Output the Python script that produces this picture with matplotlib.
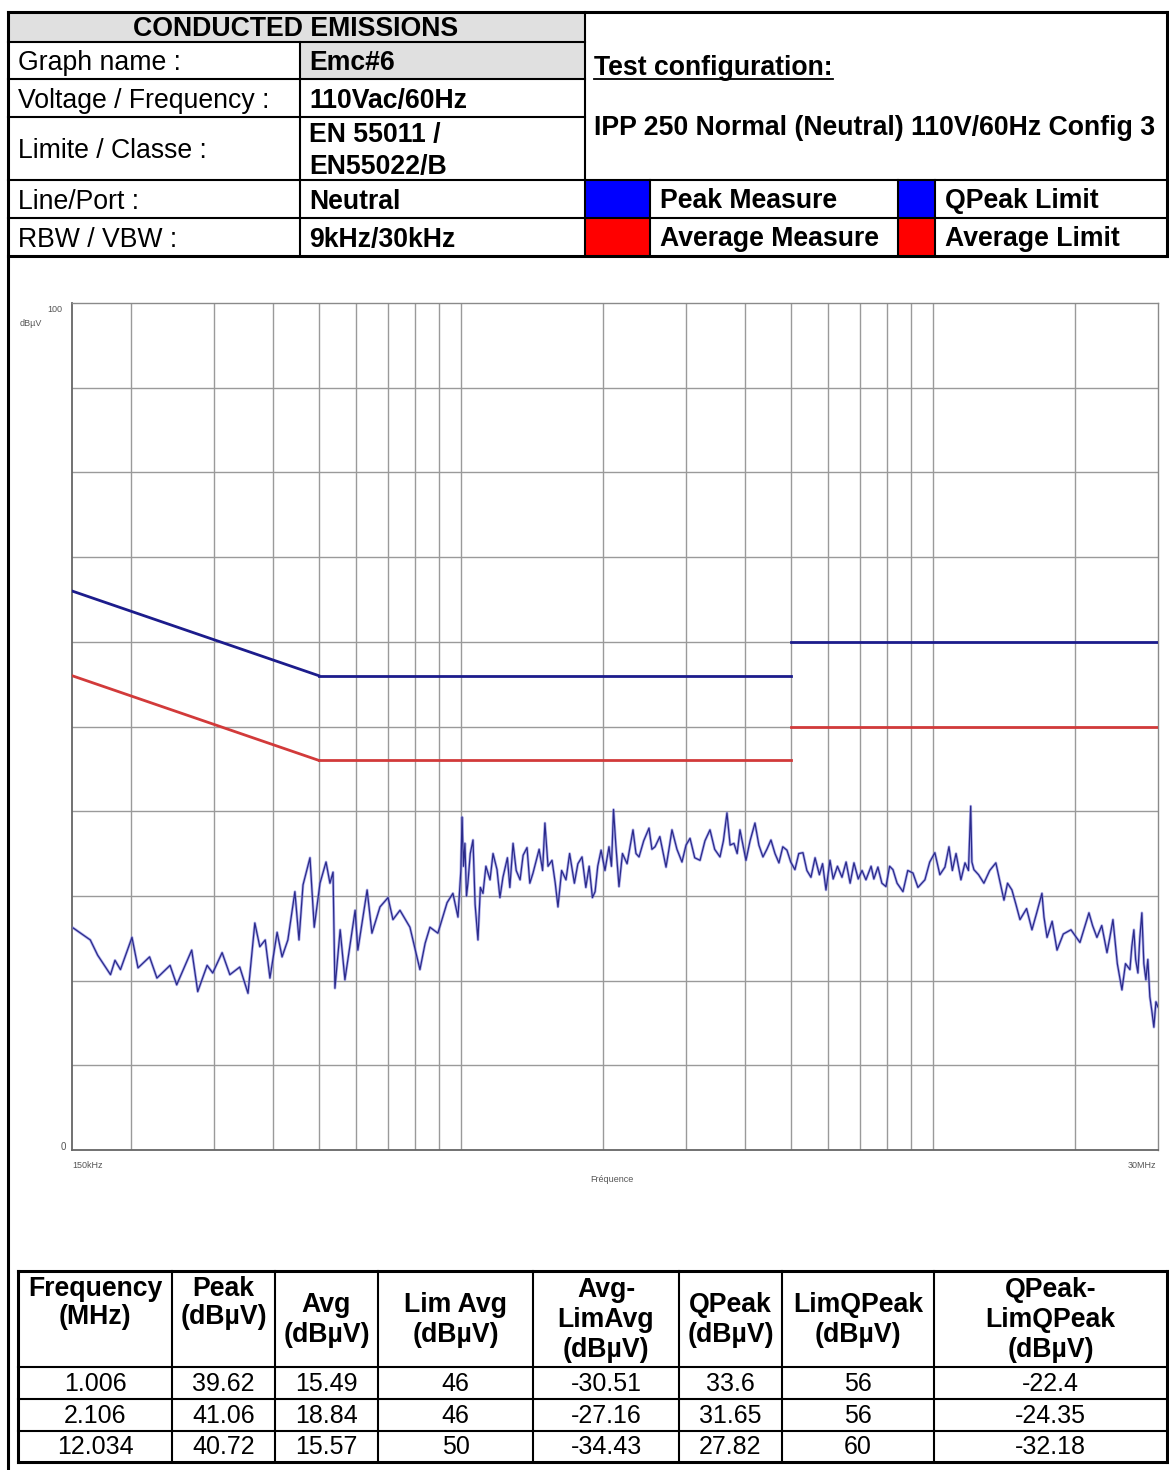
import matplotlib
matplotlib.use("Agg")
import matplotlib.pyplot as plt
from matplotlib.patches import Rectangle

plt.rcParams["font.family"] = ["Liberation Sans", "DejaVu Sans"]

# -------------------------
# DATA
# -------------------------
# peak measure trace (MHz, dBuV)
freq_mhz = [
    0.151, 0.164, 0.170, 0.181, 0.185, 0.190, 0.201, 0.207, 0.219, 0.227,
    0.242, 0.250, 0.269, 0.277, 0.290, 0.298, 0.312, 0.324, 0.340, 0.354,
    0.366, 0.375, 0.385, 0.394, 0.408, 0.418, 0.430, 0.445, 0.454, 0.463,
    0.479, 0.489, 0.503, 0.518, 0.528, 0.536, 0.541, 0.555, 0.568, 0.597,
    0.605, 0.633, 0.648, 0.674, 0.701, 0.718, 0.743, 0.780, 0.807, 0.819,
    0.840, 0.860, 0.894, 0.935, 0.962, 0.986, 1.000, 1.006, 1.013, 1.020,
    1.028, 1.035, 1.047, 1.061, 1.072, 1.087, 1.100, 1.114, 1.130, 1.153,
    1.170, 1.193, 1.210, 1.228, 1.255, 1.270, 1.290, 1.310, 1.335, 1.355,
    1.381, 1.400, 1.422, 1.465, 1.490, 1.507, 1.530, 1.560, 1.585, 1.606,
    1.635, 1.670, 1.700, 1.740, 1.770, 1.806, 1.840, 1.870, 1.900, 1.925,
    1.950, 1.982, 2.020, 2.060, 2.085, 2.106, 2.130, 2.163, 2.200, 2.250,
    2.316, 2.350, 2.385, 2.440, 2.504, 2.540, 2.579, 2.640, 2.721, 2.760,
    2.801, 2.870, 2.941, 3.000, 3.059, 3.130, 3.212, 3.290, 3.372, 3.450,
    3.540, 3.600, 3.663, 3.720, 3.790, 3.850, 3.903, 3.960, 4.019, 4.100,
    4.199, 4.280, 4.366, 4.450, 4.540, 4.630, 4.720, 4.810, 4.908, 5.000,
    5.103, 5.200, 5.307, 5.410, 5.518, 5.630, 5.750, 5.840, 5.938, 6.055,
    6.150, 6.280, 6.420, 6.550, 6.680, 6.807, 6.950, 7.080, 7.216, 7.400,
    7.500, 7.650, 7.800, 7.956, 8.100, 8.232, 8.400, 8.644, 8.850, 9.076,
    9.300, 9.622, 9.850, 10.10, 10.35, 10.61, 10.82, 11.00, 11.20, 11.47,
    11.70, 11.90, 12.03, 12.10, 12.22, 12.50, 12.83, 13.20, 13.60, 13.90,
    14.15, 14.40, 14.71, 15.00, 15.30, 15.80, 16.22, 16.60, 17.03, 17.20,
    17.46, 17.90, 18.33, 18.90, 19.62, 20.50, 21.42, 21.80, 22.27, 22.80,
    23.39, 23.70, 24.08, 24.60, 25.16, 25.60, 26.16, 26.40, 26.67, 26.90,
    27.20, 27.45, 27.73, 28.00, 28.28, 28.55, 28.83, 29.10, 29.40, 29.70,
    29.98,
]
peak_dbuv = [
    26.2, 24.8, 23.0, 20.7, 22.4, 21.3, 25.1, 21.5, 22.8, 20.3,
    21.8, 19.5, 23.6, 18.7, 21.8, 20.9, 23.3, 20.7, 21.6, 18.5,
    26.8, 24.0, 24.8, 20.3, 25.7, 22.8, 24.8, 30.5, 24.8, 31.3,
    34.5, 26.3, 31.5, 34.0, 31.5, 32.8, 19.1, 26.0, 20.1, 28.3,
    23.6, 30.7, 25.6, 28.7, 29.8, 27.2, 28.3, 26.3, 22.8, 21.3,
    24.4, 26.3, 25.6, 29.2, 30.3, 27.5, 33.0, 39.3, 33.5, 36.2,
    30.0, 31.5, 35.0, 36.6, 29.0, 24.8, 31.0, 30.3, 33.5, 31.9,
    35.0, 33.1, 29.8, 32.2, 34.5, 31.0, 36.2, 33.0, 31.9, 34.8,
    35.7, 31.5, 32.7, 35.5, 33.0, 38.6, 33.5, 34.2, 31.5, 28.7,
    33.0, 31.9, 35.0, 31.5, 33.8, 34.6, 31.0, 33.5, 29.8, 30.5,
    33.5, 35.4, 33.0, 35.8, 33.5, 40.2, 36.0, 31.1, 35.0, 33.8,
    37.8, 35.0, 34.6, 36.5, 38.0, 35.5, 35.8, 37.0, 33.4, 35.5,
    37.8, 35.5, 34.0, 36.0, 36.8, 34.5, 34.2, 36.5, 37.8, 35.5,
    34.6, 36.5, 39.8, 36.0, 36.2, 35.0, 37.8, 36.0, 34.2, 36.5,
    38.6, 36.0, 34.6, 35.5, 36.6, 35.0, 33.9, 35.8, 35.4, 34.0,
    33.1, 35.0, 35.1, 33.0, 32.2, 34.5, 32.5, 33.8, 30.7, 34.2,
    32.0, 33.5, 32.2, 34.0, 31.5, 33.9, 32.0, 33.0, 31.9, 33.5,
    32.0, 33.4, 31.5, 31.1, 33.5, 33.1, 31.5, 30.5, 33.0, 32.7,
    31.0, 31.9, 34.0, 35.1, 32.5, 33.4, 35.8, 33.0, 35.0, 31.9,
    33.9, 33.0, 40.6, 34.0, 33.1, 32.5, 31.5, 33.0, 33.9, 31.5,
    29.5, 31.5, 30.7, 29.0, 27.2, 28.5, 26.0, 28.0, 30.3, 27.5,
    25.1, 27.0, 23.6, 25.5, 26.0, 24.5, 28.0, 26.5, 25.1, 26.5,
    23.3, 25.0, 27.2, 22.0, 18.9, 22.0, 21.3, 24.0, 26.0, 22.5,
    20.9, 25.0, 28.0, 22.0, 20.1, 22.5, 18.1, 16.5, 14.5, 17.5,
    16.9,
]

# EN 55022 class B limits (segments)
qp_lim_freq = [[0.15, 0.5], [0.5, 5.0], [5.0, 30.0]]
qp_lim_db = [[66, 56], [56, 56], [60, 60]]
avg_lim_freq = [[0.15, 0.5], [0.5, 5.0], [5.0, 30.0]]
avg_lim_db = [[56, 46], [46, 46], [50, 50]]

grid_freqs = [0.2, 0.3, 0.4, 0.5, 0.6, 0.7, 0.8, 0.9, 1, 2, 3, 4, 5, 6, 7, 8, 9, 10, 20]

# header table
header_labels = ["Graph name :", "Voltage / Frequency :", "Limite / Classe :",
                 "Line/Port :", "RBW / VBW :"]
header_values = ["Emc#6", "110Vac/60Hz", "EN 55011 /\nEN55022/B", "Neutral", "9kHz/30kHz"]
test_config = "IPP 250 Normal (Neutral) 110V/60Hz Config 3"

# results table
col_headers = ["Frequency\n(MHz)", "Peak\n(dBµV)", "Avg\n(dBµV)", "Lim Avg\n(dBµV)",
               "Avg-\nLimAvg\n(dBµV)", "QPeak\n(dBµV)", "LimQPeak\n(dBµV)",
               "QPeak-\nLimQPeak\n(dBµV)"]
res_freq = ["1.006", "2.106", "12.034"]
res_peak = ["39.62", "41.06", "40.72"]
res_avg = ["15.49", "18.84", "15.57"]
res_lim_avg = ["46", "46", "50"]
res_avg_margin = ["-30.51", "-27.16", "-34.43"]
res_qpeak = ["33.6", "31.65", "27.82"]
res_lim_qpeak = ["56", "56", "60"]
res_qp_margin = ["-22.4", "-24.35", "-32.18"]

# -------------------------
# FIGURE / PAGE OVERLAY (pixel coords)
# -------------------------
W, H = 1169, 1470
fig = plt.figure(figsize=(W / 100, H / 100), dpi=100)
fig.patch.set_facecolor("white")

pg = fig.add_axes([0, 0, 1, 1])
pg.set_xlim(0, W)
pg.set_ylim(H, 0)
pg.axis("off")

THICK = 2.2
THIN = 1.5
FS = 19.2
DY = 2.5  # text baseline nudge


def hline(x0, x1, y, lw=THIN):
    pg.plot([x0, x1], [y, y], color="black", lw=lw, solid_capstyle="projecting")


def vline(x, y0, y1, lw=THIN):
    pg.plot([x, x], [y0, y1], color="black", lw=lw, solid_capstyle="projecting")


# header table
rows_y = [12, 42, 79, 117, 180, 218, 256]
gray = "#e0e0e0"
pg.add_patch(Rectangle((8, 12), 577, 30, color=gray, lw=0))
pg.add_patch(Rectangle((300, 42), 285, 37, color=gray, lw=0))

pg.text(296, 28.5, "CONDUCTED EMISSIONS", ha="center", va="center",
        fontsize=FS, fontweight="bold")
for i, (lab, val) in enumerate(zip(header_labels, header_values)):
    yc = (rows_y[i + 1] + rows_y[i + 2]) / 2 + DY
    pg.text(18, yc, lab, ha="left", va="center", fontsize=FS)
    pg.text(309, yc, val, ha="left", va="center", fontsize=FS,
            fontweight="bold", linespacing=1.3)

for y in rows_y[1:-1]:
    hline(8, 585, y)
for y in rows_y[4:6]:
    hline(585, 1167, y)
vline(300, 42, 256)
vline(585, 12, 256)

# test configuration
t = pg.text(594, 65 + DY, "Test configuration:", ha="left", va="center",
            fontsize=FS, fontweight="bold")
pg.text(594, 125 + DY, test_config, ha="left", va="center", fontsize=FS, fontweight="bold")
fig.canvas.draw()
bb = t.get_window_extent().transformed(pg.transData.inverted())
pg.plot([bb.x0, bb.x1], [78.5, 78.5], color="black", lw=1.3)

# legend swatches
legend = [(585, 180, "#0000ff", "Peak Measure"), (898, 180, "#0000ff", "QPeak Limit"),
          (585, 218, "#ff0000", "Average Measure"), (898, 218, "#ff0000", "Average Limit")]
for x0, y0, c, lab in legend:
    sw = 65 if x0 == 585 else 37
    pg.add_patch(Rectangle((x0, y0), sw, 38, color=c, lw=0))
    pg.text(x0 + sw + 10, y0 + 18 + DY, lab, ha="left", va="center",
            fontsize=FS, fontweight="bold")
vline(650, 180, 256)
vline(898, 180, 256)
vline(935, 180, 256)

# outer border
hline(8, 1167, 12, lw=THICK)
hline(8, 1167, 256, lw=THICK)
vline(1167, 12, 256, lw=THICK)
vline(8, 12, H, lw=THICK)

# results table
cols_x = [18, 172, 275, 378, 533, 679, 782, 934, 1167]
tab_y = [1271, 1367, 1399, 1431, 1462]
for x in cols_x:
    vline(x, tab_y[0], tab_y[-1], lw=THICK if x in (18, 1167) else THIN)
for y in tab_y:
    hline(18, 1167, y, lw=THICK if y in (1271, 1462) else THIN)

for j, hdr in enumerate(col_headers):
    xc = (cols_x[j] + cols_x[j + 1]) / 2
    if j < 2:
        pg.text(xc, 1276, hdr, ha="center", va="top", fontsize=FS,
                fontweight="bold", linespacing=1.1)
    else:
        pg.text(xc, 1320, hdr, ha="center", va="center", fontsize=FS,
                fontweight="bold", linespacing=1.2)

res_cols = [res_freq, res_peak, res_avg, res_lim_avg, res_avg_margin,
            res_qpeak, res_lim_qpeak, res_qp_margin]
for j, col in enumerate(res_cols):
    xc = (cols_x[j] + cols_x[j + 1]) / 2
    for i, v in enumerate(col):
        yc = (tab_y[i + 1] + tab_y[i + 2]) / 2
        pg.text(xc, yc + 1, v, ha="center", va="center", fontsize=18)

# chart labels (small grey)
lab_c = "#555555"
pg.text(62, 309, "100", ha="right", va="center", fontsize=6.5, color=lab_c)
pg.text(20, 323, "dBµV", ha="left", va="center", fontsize=6.5, color=lab_c)
pg.text(66, 1147, "0", ha="right", va="center", fontsize=7, color=lab_c)
pg.text(72, 1166, "150kHz", ha="left", va="center", fontsize=6.5, color=lab_c)
pg.text(1156, 1166, "30MHz", ha="right", va="center", fontsize=6.5, color=lab_c)
pg.text(612, 1180, "Fréquence", ha="center", va="center", fontsize=6.5, color=lab_c)

# -------------------------
# CHART
# -------------------------
ax = fig.add_axes([72 / W, 1 - 1150 / H, 1086 / W, 847 / H])
ax.set_xscale("log")
ax.set_xlim(0.15, 30)
ax.set_ylim(0, 100)

for gx in grid_freqs:
    ax.axvline(gx, color="#9a9a9a", lw=1.0, zorder=1)
for gy in range(10, 100, 10):
    ax.axhline(gy, color="#9a9a9a", lw=1.0, zorder=1)

for fx, dy in zip(qp_lim_freq, qp_lim_db):
    ax.plot(fx, dy, color="#1c1c8c", lw=2.0, zorder=3)
for fx, dy in zip(avg_lim_freq, avg_lim_db):
    ax.plot(fx, dy, color="#d23a3a", lw=2.0, zorder=3)

ax.plot(freq_mhz, peak_dbuv, color="#7c7ce0", lw=2.0, alpha=0.6, zorder=4)
ax.plot(freq_mhz, peak_dbuv, color="#2a2a8a", lw=0.9, zorder=5)

ax.set_xticks([])
ax.set_yticks([])
ax.minorticks_off()
for side, sp in ax.spines.items():
    sp.set_color("#666666" if side in ("left", "bottom") else "#8a8a8a")
    sp.set_linewidth(1.3 if side in ("left", "bottom") else 1.0)

plt.savefig("out.png", dpi=100)
plt.close()
print("Saved out.png")
